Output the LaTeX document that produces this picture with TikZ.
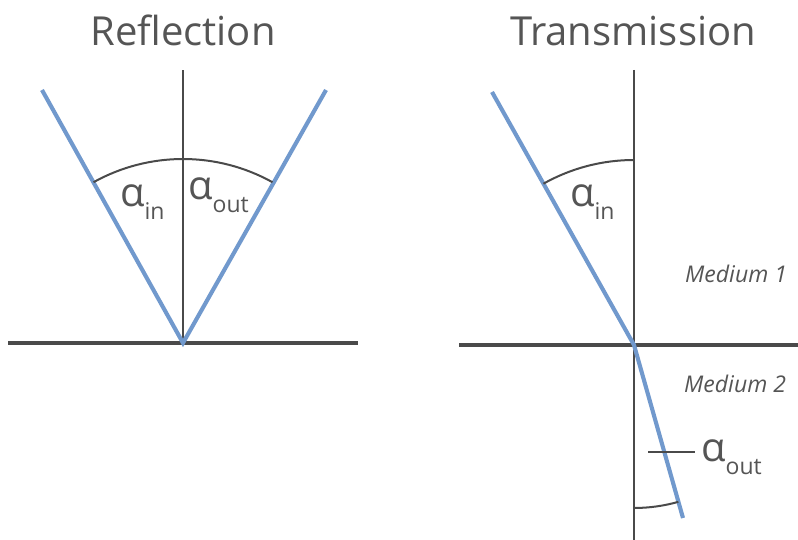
\documentclass[tikz,border=0pt]{standalone}
\usepackage{fontspec}
\setmainfont{Open Sans}
\usepackage{xcolor}
\usetikzlibrary{calc}
\definecolor{linegray}{HTML}{4a4a4a}
\definecolor{textgray}{HTML}{555555}
\definecolor{rayblue}{HTML}{7199cd}
\newcommand{\lowsub}[1]{\raisebox{-13pt}{\fontsize{23}{26}\selectfont #1}}

\begin{document}
\begin{tikzpicture}[x=1pt, y=1pt,
  surface/.style={draw=linegray, line width=3.6pt},
  normal/.style={draw=linegray, line width=1.8pt},
  ray/.style={draw=rayblue, line width=4.1pt},
  anglearc/.style={draw=linegray, line width=2pt},
  title/.style={text=textgray, anchor=base, inner sep=0pt, font=\fontsize{40}{46}\selectfont},
  medium/.style={text=textgray, anchor=base west, inner sep=0pt, font=\fontsize{23}{27}\selectfont\itshape},
  ang/.style={text=textgray, anchor=base west, inner sep=0pt, font=\fontsize{40}{46}\selectfont}]

\useasboundingbox (0,0) rectangle (798,540);

% Reflection
\node[title] (tref) at (183,494) {Reflection};
\coordinate (lhit) at (183,197);
\coordinate (lsl) at (8,197);   \coordinate (lsr) at (358,197);
\coordinate (ltop) at (183,470);
\coordinate (lin) at (42,450);  \coordinate (lout) at (326,450);
\draw[surface] (lsl) -- (lsr);
\draw[normal] (lhit) -- (ltop);
\draw[ray] (lin) -- (lhit) -- (lout);
\draw[anglearc] ($(lhit)+(119.1:184pt)$) arc (119.1:60.9:184pt);
\node[ang] (lain) at (120,333) {α\lowsub{in}};
\node[ang] (laout) at (188,340) {α\lowsub{out}};

% Transmission
\node[title] (ttra) at (633,494) {Transmission};
\coordinate (rhit) at (634,195);
\coordinate (rsl) at (459,195); \coordinate (rsr) at (798,195);
\coordinate (rtop) at (634,470); \coordinate (rbot) at (634,0);
\coordinate (rin) at (492,448);  \coordinate (rout) at (683,22);
\draw[surface] (rsl) -- (rsr);
\draw[normal] (rtop) -- (rbot);
\draw[ray] (rin) -- (rhit) -- (rout);
\draw[anglearc] ($(rhit)+(119.3:185pt)$) arc (119.3:90:185pt);
\draw[anglearc] ($(rhit)+(270:163pt)$) arc (270:285.8:163pt);
\node[ang] (raout) at (701,78) {α\lowsub{out}};
\node[ang] (rain) at (570,333) {α\lowsub{in}};
\coordinate (tick) at (648,88);
\draw[anglearc] (tick) -- ($(raout.west |- tick)+(-6,0)$);
\node[medium] (med1) at (685,257) {Medium 1};
\node[medium] (med2) at (684,147) {Medium 2};

\end{tikzpicture}
\end{document}
